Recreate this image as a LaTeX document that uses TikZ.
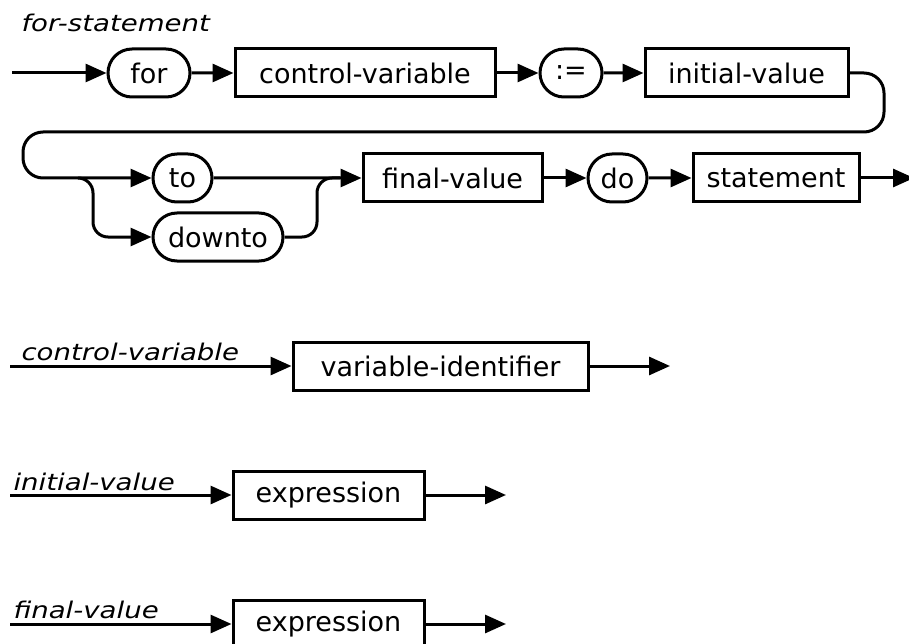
\documentclass[tikz,border=0pt]{standalone}
\usepackage{fontspec}
\usepackage{tikz}
\usetikzlibrary{arrows.meta,shapes.misc}
\newfontfamily\diagfont{DejaVu Sans}
\newfontfamily\widefont[FakeStretch=1.2]{DejaVu Sans}
\newcommand{\boxfont}{\diagfont\fontsize{27}{32}\selectfont}
\newcommand{\rulefont}{\widefont\itshape\fontsize{23}{27}\selectfont}

\begin{document}
\begin{tikzpicture}[x=1pt, y=-1pt, line width=3pt,
        nonterm/.style={draw, rectangle, minimum height=48pt, inner sep=0pt, font=\boxfont},
        term/.style={draw, rounded rectangle, minimum height=48pt, inner sep=0pt, font=\boxfont},
        flow/.style={-{Triangle[length=21pt, width=18pt]}},
        rulename/.style={anchor=base west, inner sep=0pt, font=\rulefont}]
        \useasboundingbox (0,0) rectangle (909,644);

        % for-statement
        \node[rulename] (forname) at (20,32) {for-statement};
        \coordinate (forin) at (12,73);
        \node[term, minimum width=82pt] (kwfor) at (149,73) {for};
        \node[nonterm, minimum width=260pt] (cvar) at (365,73) {control-variable};
        \node[term, minimum width=62pt] (assign) at (571,73) {:=};
        \node[nonterm, minimum width=203pt] (ival) at (746.5,73) {initial-value};
        \node[term, minimum width=59pt] (kwto) at (182.5,178) {to};
        \node[term, minimum width=130pt] (kwdownto) at (218,237) {downto};
        \node[nonterm, minimum width=179pt] (fval) at (452.5,178) {final-value};
        \node[term, minimum width=59pt] (kwdo) at (617.5,178) {do};
        \node[nonterm, minimum width=166pt] (stmt) at (776,178) {statement};
        \coordinate (forout) at (914,178);

        \draw[flow] (forin) -- (kwfor);
        \draw[flow] (kwfor) -- (cvar);
        \draw[flow] (cvar) -- (assign);
        \draw[flow] (assign) -- (ival);
        \draw[flow, rounded corners=20pt] (ival.east) -- (884,73) -- (884,132) -- (23,132) -- (23,178) -- (kwto.west);
        \draw[flow, rounded corners=15pt] (78,178) -- (93,178) -- (93,237) -- (kwdownto.west);
        \draw[rounded corners=15pt] (kwdownto.east) -- (317,237) -- (317,178) -- (340,178);
        \draw[flow] (kwto) -- (fval);
        \draw[flow] (fval) -- (kwdo);
        \draw[flow] (kwdo) -- (stmt);
        \draw[flow] (stmt) -- (forout);

        % control-variable
        \node[rulename] (cvname) at (20,360) {control-variable};
        \coordinate (cvin) at (10,366);
        \node[nonterm, minimum width=295pt] (varid) at (440.5,366) {variable-identifier};
        \coordinate (cvout) at (670,366);
        \draw[flow] (cvin) -- (varid);
        \draw[flow] (varid) -- (cvout);

        % initial-value
        \node[rulename] (ivname) at (12,490) {initial-value};
        \coordinate (ivin) at (10,495);
        \node[nonterm, minimum width=191pt] (ivexpr) at (328.5,495) {expression};
        \coordinate (ivout) at (506,495);
        \draw[flow] (ivin) -- (ivexpr);
        \draw[flow] (ivexpr) -- (ivout);

        % final-value
        \node[rulename] (fvname) at (12,618) {final-value};
        \coordinate (fvin) at (10,624);
        \node[nonterm, minimum width=191pt] (fvexpr) at (328.5,624) {expression};
        \coordinate (fvout) at (506,624);
        \draw[flow] (fvin) -- (fvexpr);
        \draw[flow] (fvexpr) -- (fvout);
    \end{tikzpicture}
\end{document}
